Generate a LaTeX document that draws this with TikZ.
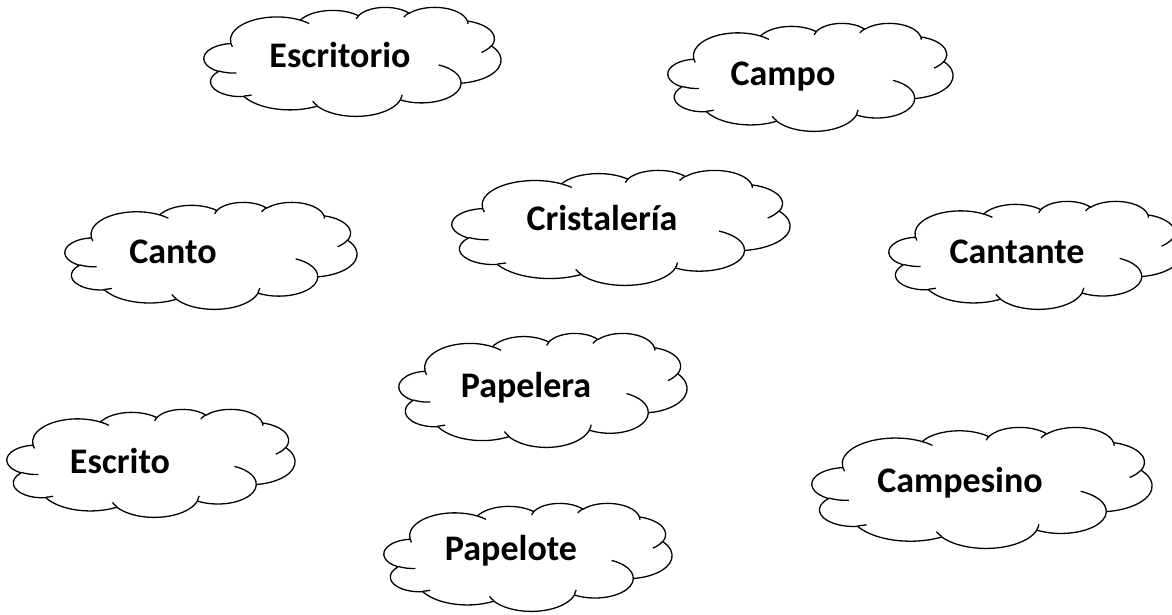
\documentclass[tikz,border=0pt]{standalone}
\usepackage{fontspec}
\setmainfont{Carlito}
\newcommand\defcloudarc[5]{%
  \pgfmathsetmacro\arcTa{atan2((#2)*sin(#4),(#3)*cos(#4))}%
  \pgfmathsetmacro\arcTb{atan2((#2)*sin((#4)+(#5)),(#3)*cos((#4)+(#5)))}%
  \pgfmathsetmacro\arcTd{\arcTb-\arcTa}%
  \pgfmathsetmacro\arcTd{ifthenelse(#5>0,ifthenelse(\arcTd<0,\arcTd+360,\arcTd),ifthenelse(\arcTd>0,\arcTd-360,\arcTd))}%
  \expandafter\xdef\csname cloudarc#1\endcsname{arc[start angle=\arcTa, delta angle=\arcTd, x radius=#2, y radius=#3]}%
}
\defcloudarc{A}{6.753}{9.190}{-190.48748}{123.78053}
\defcloudarc{B}{5.333}{7.267}{-144.10238}{89.94523}
\defcloudarc{C}{4.365}{5.945}{-145.80792}{99.72302}
\defcloudarc{D}{4.857}{6.595}{-130.98607}{117.24173}
\defcloudarc{E}{5.333}{7.273}{-78.70888}{109.02692}
\defcloudarc{F}{6.775}{9.220}{-46.26725}{130.269}
\defcloudarc{G}{5.785}{7.867}{0.62502}{114.03333}
\defcloudarc{H}{6.752}{9.215}{22.4516}{115.17255}
\defcloudarc{I}{7.720}{10.543}{66.24263}{75.71102}
\defcloudarc{J}{4.360}{5.918}{-274.94208}{146.73557}
\defcloudarc{K}{4.345}{5.945}{-246.8285}{152.51885}
\defcloudarc{a}{4.345}{5.945}{86.742}{26.4295}
\defcloudarc{b}{4.360}{5.918}{73.61047}{11.44747}
\defcloudarc{c}{6.752}{9.215}{137.62415}{14.0811}
\defcloudarc{d}{6.752}{9.215}{6.45327}{15.99835}
\defcloudarc{e}{5.785}{7.867}{-70.29235}{70.91737}
\defcloudarc{f}{5.333}{7.273}{30.31803}{27.7515}
\defcloudarc{g}{4.857}{6.595}{-13.74433}{14.8589}
\defcloudarc{h}{4.857}{6.595}{-149.18145}{18.19537}
\defcloudarc{i}{4.365}{5.945}{-163.49427}{17.68635}
\defcloudarc{j}{6.753}{9.190}{-66.70695}{12.31935}
\defcloudarc{k}{6.753}{9.190}{157.65435}{11.85817}
\newcommand\wordcloud[4]{%
  \pgfmathsetmacro\cloudsx{#3/43.2}%
  \pgfmathsetmacro\cloudsy{#4/43.2}%
  \begin{scope}[shift={(#1,#2)},xscale=\cloudsx,yscale=\cloudsy]
    \draw[cloudline,fill=white] (3.900,14.370) \cloudarcA \cloudarcB \cloudarcC \cloudarcD
      \cloudarcE \cloudarcF \cloudarcG \cloudarcH \cloudarcI \cloudarcJ \cloudarcK -- cycle;
    \draw[cloudline] (4.693,26.177) \cloudarca (6.928,34.899) \cloudarcb
      (16.478,39.090) \cloudarcc (28.827,34.751) \cloudarcd
      (34.129,22.954) \cloudarce (41.798,15.354) \cloudarcf
      (38.324,5.426) \cloudarcg (29.078,3.952) \cloudarch
      (22.141,4.720) \cloudarci (14.000,5.192) \cloudarcj
      (4.127,15.789) \cloudarck;
  \end{scope}}
\begin{document}
\begin{tikzpicture}[x=1pt,y=-1pt,
  cloudline/.style={draw=black,line width=1.3pt,line join=round},
  word/.style={font=\fontsize{36}{40}\selectfont\bfseries,inner sep=0pt,anchor=base,text=black}]
\useasboundingbox[fill=white] (0,0) rectangle (1172,614);
\wordcloud{204}{7}{297}{109}
\wordcloud{668}{23}{285}{108}
\wordcloud{452}{170}{338}{115}
\wordcloud{65}{202}{292}{107}
\wordcloud{889}{201}{292}{108}
\wordcloud{399}{333}{288}{114}
\wordcloud{7}{409}{288}{108}
\wordcloud{812}{427}{340}{121}
\wordcloud{384}{503}{288}{108}
\node[word] (escritorio) at (340,67) {Escritorio};
\node[word] (campo) at (783,85) {Campo};
\node[word] (cristaleria) at (602,230) {Cristalería};
\node[word] (canto) at (173,263) {Canto};
\node[word] (cantante) at (1017,263) {Cantante};
\node[word] (papelera) at (526,397) {Papelera};
\node[word] (escrito) at (120,473) {Escrito};
\node[word] (campesino) at (960,492) {Campesino};
\node[word] (papelote) at (511,560) {Papelote};
\end{tikzpicture}
\end{document}
